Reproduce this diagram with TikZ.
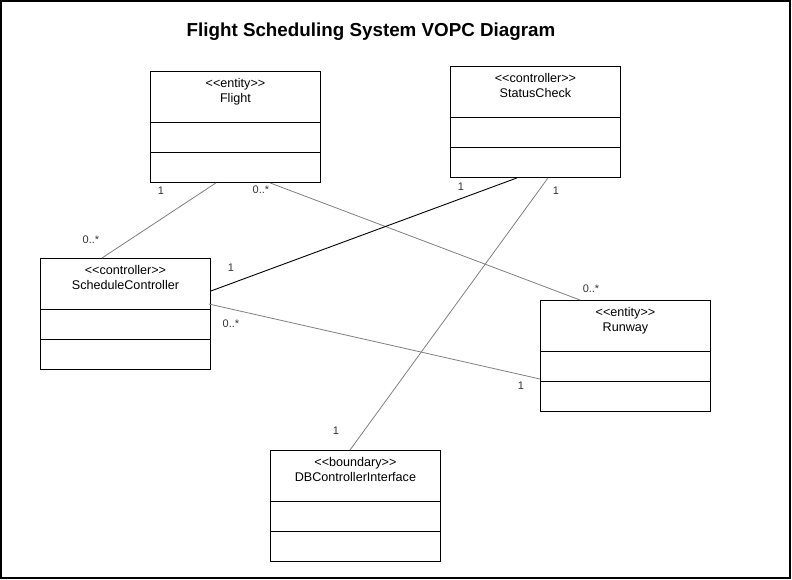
\documentclass[tikz,border=0pt]{standalone}
\usepackage{fontspec}
\setmainfont{Liberation Sans}[Ligatures=TeXOff]
\usetikzlibrary{calc}
\definecolor{assocgray}{HTML}{7F7F7F}
\definecolor{labelgray}{HTML}{333333}
\tikzset{
  classbox/.style={draw=black, line width=0.9pt, rectangle, anchor=north west,
    minimum width=170pt, minimum height=111pt, inner sep=0pt, fill=white},
  classtext/.style={align=center, font=\fontsize{12.6}{15}\selectfont, inner sep=0pt, anchor=north},
  divider/.style={draw=black, line width=0.9pt},
  assoc/.style={draw=assocgray, line width=0.8pt},
  assocdark/.style={draw=black, line width=0.9pt},
  mult/.style={font=\fontsize{11}{13}\selectfont, text=labelgray, inner sep=0pt},
  titletext/.style={font=\fontsize{18.8}{22}\selectfont\bfseries, inner sep=0pt}
}
\newcommand{\umlclassbox}[5]{%
  \node[classbox] (#1) at (#2,#3) {};
  \node[classtext] (#1t) at ($(#1.north)+(0,7)$) {<\kern0pt<#4>\kern0pt>\\#5};
  \draw[divider] ($(#1.north west)+(0,51)$) -- ($(#1.north east)+(0,51)$);
  \draw[divider] ($(#1.north west)+(0,81)$) -- ($(#1.north east)+(0,81)$);
}
\begin{document}
\begin{tikzpicture}[x=1pt,y=-1pt]
\useasboundingbox (0,0) rectangle (792,580);
\draw[line width=1.5pt] (1,1) rectangle (790,578);
\node[titletext] (title) at (371,32) {Flight Scheduling System VOPC Diagram};

\umlclassbox{flight}{150}{71}{entity}{Flight}
\umlclassbox{status}{450}{66}{controller}{StatusCheck}
\umlclassbox{sched}{40}{258}{controller}{ScheduleController}
\umlclassbox{runway}{540}{300}{entity}{Runway}
\umlclassbox{db}{270}{450}{boundary}{DBControllerInterface}

\draw[assoc] ($(flight.south west)+(66,0)$) coordinate (f1) -- ($(sched.north west)+(62,0)$) coordinate (s1);
\draw[assoc] ($(flight.south west)+(120,0)$) coordinate (f2) -- ($(runway.north west)+(40,0)$) coordinate (r1);
\draw[assocdark] ($(status.south west)+(67,0)$) coordinate (st1) -- ($(sched.north east)+(0,33)$) coordinate (s2);
\draw[assoc] ($(status.south west)+(98,0)$) coordinate (st2) -- ($(db.north west)+(80,0)$) coordinate (d1);
\draw[assoc] ($(sched.north east)+(-2,46)$) coordinate (s3) -- ($(runway.north west)+(0,79)$) coordinate (r2);

% multiplicities
\node[mult] (m1) at (161,191) {1};
\node[mult] (m2) at (261,190) {0..*};
\node[mult] (m3) at (91,240) {0..*};
\node[mult] (m4) at (461,187) {1};
\node[mult] (m5) at (556,191) {1};
\node[mult] (m6) at (231,268) {1};
\node[mult] (m7) at (231,324) {0..*};
\node[mult] (m8) at (591,289) {0..*};
\node[mult] (m9) at (521,386) {1};
\node[mult] (m10) at (336,431) {1};
\end{tikzpicture}
\end{document}
